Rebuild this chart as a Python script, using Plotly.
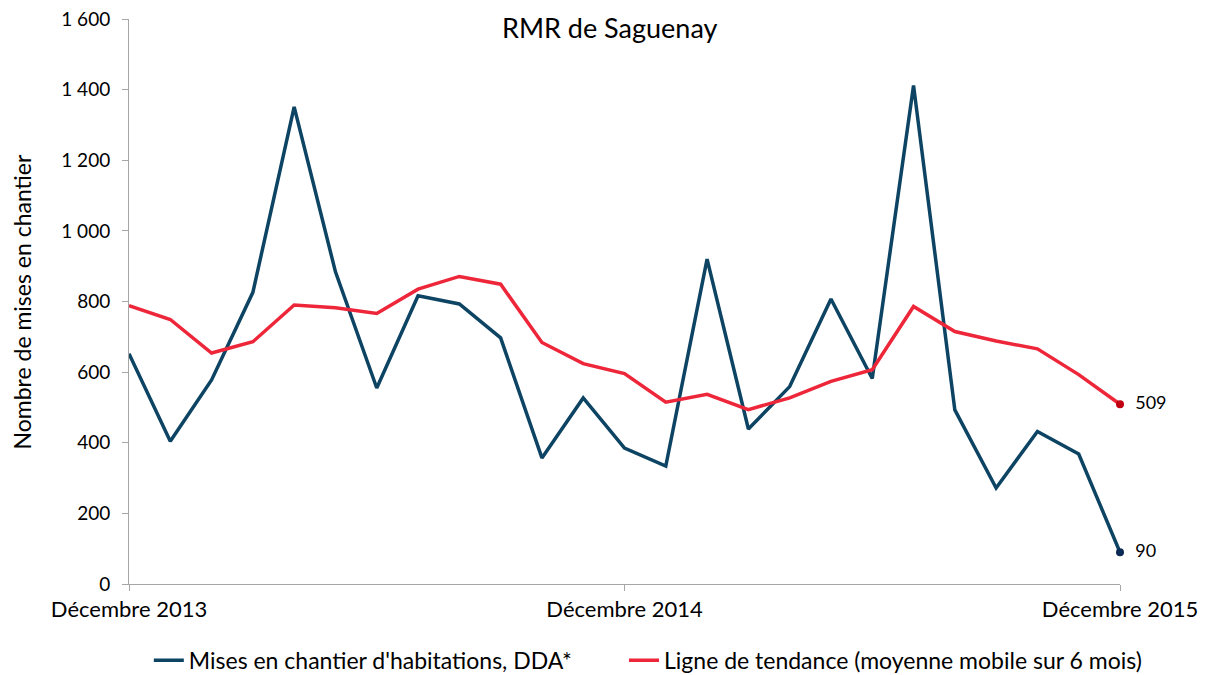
import plotly.graph_objects as go

# Data
months = list(range(25))  # Décembre 2013 .. Décembre 2015
tick_positions = [0, 12, 24]
tick_labels = ["Décembre 2013", "Décembre 2014", "Décembre 2015"]
y_ticks = [0, 200, 400, 600, 800, 1000, 1200, 1400, 1600]
y_tick_labels = ["0", "200", "400", "600", "800", "1 000", "1 200", "1 400", "1 600"]

mises_en_chantier = [652, 404, 578, 826, 1351, 884, 555, 816, 793, 697, 357, 527, 385,
                     334, 920, 439, 559, 807, 582, 1412, 493, 272, 432, 368, 90]
tendance = [788, 749, 654, 686, 790, 782, 766, 835, 871, 849, 684, 624, 596,
            515, 537, 494, 527, 574, 607, 786, 715, 688, 666, 593, 509]

name_blue = "Mises en chantier d'habitations, DDA*"
name_red = "Ligne de tendance (moyenne mobile sur 6 mois)"
title = "RMR de Saguenay"
y_title = "Nombre de mises en chantier"

BLUE = "#0D4463"
RED = "#EE2639"
FONT = "Lato"

fig = go.Figure()
fig.add_trace(go.Scatter(x=months, y=mises_en_chantier, mode="lines", name=name_blue,
                         line=dict(color=BLUE, width=3.5), cliponaxis=False, legend="legend"))
fig.add_trace(go.Scatter(x=months, y=tendance, mode="lines", name=name_red,
                         line=dict(color=RED, width=3.5), cliponaxis=False, legend="legend2"))
# End-point markers with labels
fig.add_trace(go.Scatter(x=[months[-1]], y=[tendance[-1]], mode="markers+text",
                         text=["  " + str(tendance[-1])], textposition="middle right",
                         marker=dict(color="#C00010", size=8), showlegend=False,
                         textfont=dict(size=18, color="#000000", family=FONT), cliponaxis=False))
fig.add_trace(go.Scatter(x=[months[-1]], y=[mises_en_chantier[-1]], mode="markers+text",
                         text=["  " + str(mises_en_chantier[-1])], textposition="middle right",
                         marker=dict(color="#0B2A55", size=8), showlegend=False,
                         textfont=dict(size=18, color="#000000", family=FONT), cliponaxis=False))

fig.add_annotation(text=title, xref="paper", yref="paper", x=0.485, y=1.0,
                   xanchor="center", yanchor="top", showarrow=False, yshift=10,
                   font=dict(size=27, color="#000000", family=FONT))
fig.add_annotation(text=y_title, xref="paper", yref="paper", x=-0.108, y=0.5,
                   xanchor="center", yanchor="middle", showarrow=False, textangle=-90,
                   font=dict(size=23, color="#000000", family=FONT))

legend_style = dict(orientation="h", y=-0.135, yanchor="middle", xanchor="left",
                    font=dict(size=23, family=FONT, color="#000000"), itemwidth=30,
                    bgcolor="rgba(0,0,0,0)")

# page has an 8px body margin: figure is 8px smaller, left/top margins 8px smaller
fig.update_layout(
    width=1199, height=667,
    margin=dict(l=121, r=87, t=11, b=91, autoexpand=False),
    paper_bgcolor="white", plot_bgcolor="white",
    font=dict(family=FONT, size=17, color="#000000"),
    showlegend=True,
    legend=dict(x=0.02, **legend_style),
    legend2=dict(x=0.4995, **legend_style),
)
fig.update_xaxes(range=[0, 24], tickvals=tick_positions, ticktext=tick_labels,
                 showgrid=False, zeroline=False, showline=True, linecolor="#A6A6A6",
                 linewidth=1, ticks="outside", ticklen=6, tickcolor="#A6A6A6",
                 ticklabeloverflow="allow",
                 tickfont=dict(size=22, family=FONT), automargin=False)
fig.update_yaxes(range=[0, 1600], tickvals=y_ticks, ticktext=y_tick_labels,
                 showgrid=False, zeroline=False, showline=True, linecolor="#A6A6A6",
                 linewidth=1, ticks="outside", ticklen=6, tickcolor="#A6A6A6",
                 ticklabelstandoff=8, ticklabeloverflow="allow",
                 tickfont=dict(size=19, family=FONT), automargin=False)

fig.write_html("out.html")
